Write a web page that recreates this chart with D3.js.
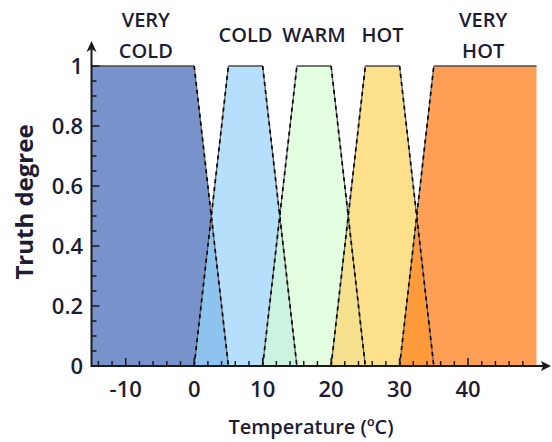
<!DOCTYPE html>
<html>
<head>
<meta charset="utf-8">
<script src="https://cdn.jsdelivr.net/npm/d3@7"></script>
<style>
  html, body { margin: 0; padding: 0; background: #fff; }
  svg text { font-family: "Open Sans", "Liberation Sans", sans-serif; fill: #1c1d33; }
</style>
</head>
<body>
<svg id="chart" width="552" height="442"></svg>
<script>
// Fuzzy temperature sets: trapezoids [a, b, c, d] in °C
const setNames = [["VERY", "COLD"], ["COLD"], ["WARM"], ["HOT"], ["VERY", "HOT"]];
const setShapes = [
  [-15, -15, 0, 5],
  [0, 5, 10, 15],
  [10, 15, 20, 25],
  [20, 25, 30, 35],
  [30, 35, 50, 50]
];
const setColors = ["#7892cb", "#b5dffb", "#e2fde0", "#fde08b", "#fe9f55"];
// fill of the zone where two neighbouring sets overlap
const overlapColors = ["#8ec3ef", "#ccf3e0", "#f4e08d", "#fd9b3b"];

const xTickValues = [-10, 0, 10, 20, 30, 40];
const yTickValues = [0, 0.2, 0.4, 0.6, 0.8, 1];
const yTickLabels = ["0", "0.2", "0.4", "0.6", "0.8", "1"];

const svg = d3.select("#chart");
const x = d3.scaleLinear().domain([-15, 50]).range([91.5, 536.5]);
const y = d3.scaleLinear().domain([0, 1]).range([366, 66]);

// Trapezoid fills
const trapPts = s => [[s[0], 0], [s[1], 1], [s[2], 1], [s[3], 0]];
const line = d3.line().x(d => x(d[0])).y(d => y(d[1]));

svg.append("g").selectAll("path")
  .data(setShapes)
  .join("path")
  .attr("d", d => line(trapPts(d)) + "Z")
  .attr("fill", (d, i) => setColors[i]);

// Overlap triangles between consecutive sets
const overlaps = d3.range(setShapes.length - 1).map(i => {
  const A = setShapes[i], B = setShapes[i + 1];
  // falling edge of A: (A[2],1)->(A[3],0); rising edge of B: (B[0],0)->(B[1],1)
  const ka = 1 / (A[3] - A[2]), kb = 1 / (B[1] - B[0]);
  const t = (1 + ka * A[2] + kb * B[0]) / (ka + kb);
  const m = (t - B[0]) * kb;
  return [[B[0], 0], [t, m], [A[3], 0]];
});

svg.append("g").selectAll("path")
  .data(overlaps)
  .join("path")
  .attr("d", d => line(d) + "Z")
  .attr("fill", (d, i) => overlapColors[i]);

// Outlines: thin solid tops, dashed slopes
const edges = svg.append("g");
setShapes.forEach((s, i) => {
  edges.append("path")
    .attr("d", line([[s[1], 1], [s[2], 1]]))
    .attr("fill", "none").attr("stroke", "#4a4a4a").attr("stroke-width", 1.4);
  const slopes = [];
  if (s[1] > s[0]) slopes.push([[s[0], 0], [s[1], 1]]);
  if (s[3] > s[2]) slopes.push([[s[2], 1], [s[3], 0]]);
  slopes.forEach(sl => {
    edges.append("path").attr("d", line(sl))
      .attr("fill", "none").attr("stroke", "#5c5c5c").attr("stroke-width", 1.2);
    edges.append("path").attr("d", line(sl))
      .attr("fill", "none").attr("stroke", "#080808").attr("stroke-width", 1.7)
      .attr("stroke-dasharray", "4,4");
  });
});

// Axes with inward ticks
const axisColor = "#1a1a1a";
const xMinor = d3.range(-14, 50, 2).filter(v => v % 10 !== 0);
const yMinor = d3.range(1, 20).map(v => v / 20).filter(v => Math.round(v * 20) % 4 !== 0);

const tickG = svg.append("g").attr("stroke", axisColor).attr("stroke-width", 1.5);
tickG.selectAll(".xmaj").data(xTickValues).join("line")
  .attr("x1", d => x(d)).attr("x2", d => x(d))
  .attr("y1", y(0)).attr("y2", y(0) - 8);
tickG.selectAll(".xmin").data(xMinor).join("line")
  .attr("x1", d => x(d)).attr("x2", d => x(d))
  .attr("y1", y(0)).attr("y2", y(0) - 5);
tickG.selectAll(".ymaj").data(yTickValues).join("line")
  .attr("x1", x(-15)).attr("x2", x(-15) + 8)
  .attr("y1", d => y(d)).attr("y2", d => y(d));
tickG.selectAll(".ymin").data(yMinor).join("line")
  .attr("x1", x(-15)).attr("x2", x(-15) + 5)
  .attr("y1", d => y(d)).attr("y2", d => y(d));

// Axis lines with arrow heads
svg.append("line")
  .attr("x1", x(-15)).attr("x2", 545).attr("y1", y(0)).attr("y2", y(0))
  .attr("stroke", axisColor).attr("stroke-width", 2);
svg.append("path")
  .attr("d", `M551,${y(0)} L541,${y(0) - 5} L543,${y(0)} L541,${y(0) + 5} Z`)
  .attr("fill", axisColor);
svg.append("line")
  .attr("x1", x(-15)).attr("x2", x(-15)).attr("y1", y(0) + 1).attr("y2", 48)
  .attr("stroke", axisColor).attr("stroke-width", 2);
svg.append("path")
  .attr("d", `M${x(-15)},41 L${x(-15) - 5},52 L${x(-15)},49 L${x(-15) + 5},52 Z`)
  .attr("fill", axisColor);

// Tick labels
svg.append("g").selectAll("text")
  .data(xTickValues).join("text")
  .attr("x", d => x(d)).attr("y", 397)
  .attr("text-anchor", "middle")
  .attr("font-size", 22).attr("font-weight", 600)
  .text(d => d);

svg.append("g").selectAll("text")
  .data(yTickValues).join("text")
  .attr("x", 83).attr("y", d => y(d) + 8)
  .attr("text-anchor", "end")
  .attr("font-size", 22).attr("font-weight", 600)
  .text((d, i) => yTickLabels[i]);

// Axis titles
svg.append("text")
  .attr("x", 311).attr("y", 434)
  .attr("text-anchor", "middle")
  .attr("font-size", 20).attr("font-weight", 600)
  .text("Temperature (ºC)");

svg.append("text")
  .attr("transform", "translate(33,202) rotate(-90)")
  .attr("text-anchor", "middle")
  .attr("font-size", 24).attr("font-weight", 700)
  .text("Truth degree");

// Set names above each plateau
svg.append("g").selectAll("text")
  .data(setShapes).join("text")
  .attr("x", (d, i) => x((d[1] + d[2]) / 2) + (i === 0 ? 3 : i === 4 ? -2 : 0))
  .attr("y", (d, i) => setNames[i].length > 1 ? 27 : 42)
  .attr("text-anchor", "middle")
  .attr("font-size", 20).attr("font-weight", 600)
  .each(function(d, i) {
    const t = d3.select(this);
    setNames[i].forEach((w, k) => {
      t.append("tspan").attr("x", t.attr("x")).attr("dy", k === 0 ? 0 : 31).text(w);
    });
  });
</script>
</body>
</html>
